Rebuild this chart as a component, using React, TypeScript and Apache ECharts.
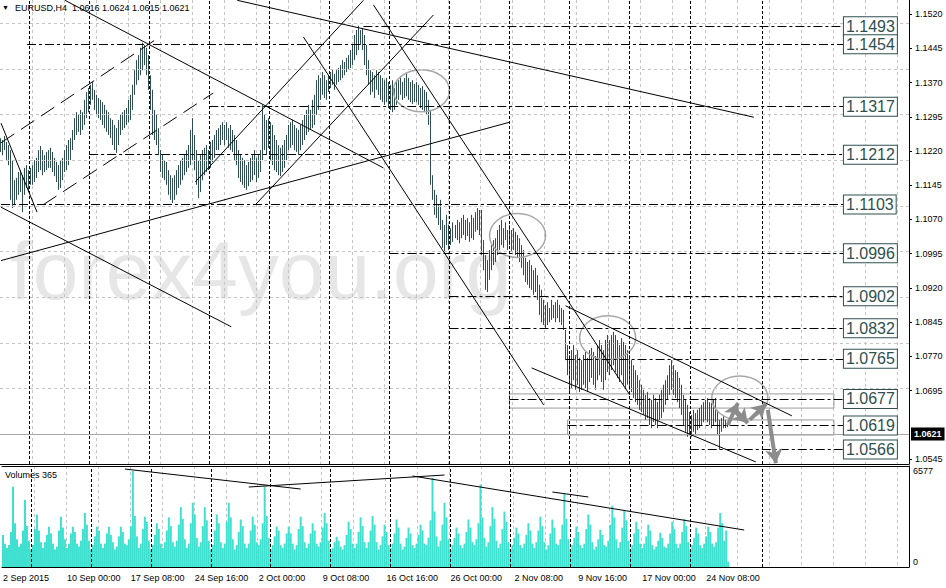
import { useEffect, useRef } from 'react';
import * as echarts from 'echarts';

// ---- bar data (EURUSD H4), one entry per bar ----
const highs = [
  1.1248,1.1244,1.1253,1.1240,1.1233,1.1222,1.1200,1.1156,1.1161,1.1174,1.1178,1.1167,1.1183,1.1189,1.1178,1.1183,
  1.1189,1.1200,1.1205,1.1222,1.1231,1.1222,1.1211,1.1218,1.1222,1.1227,1.1218,1.1205,1.1196,1.1189,1.1200,1.1205,
  1.1222,1.1233,1.1244,1.1248,1.1266,1.1292,1.1305,1.1299,1.1310,1.1305,1.1332,1.1349,1.1358,1.1365,1.1371,1.1354,
  1.1343,1.1336,1.1332,1.1327,1.1321,1.1310,1.1305,1.1292,1.1288,1.1277,1.1270,1.1288,1.1299,1.1305,1.1310,1.1314,
  1.1332,1.1343,1.1365,1.1397,1.1419,1.1430,1.1446,1.1457,1.1452,1.1446,1.1430,1.1386,1.1354,1.1310,1.1299,1.1270,
  1.1222,1.1211,1.1200,1.1196,1.1178,1.1167,1.1161,1.1167,1.1178,1.1189,1.1200,1.1205,1.1211,1.1222,1.1233,1.1266,
  1.1292,1.1255,1.1222,1.1200,1.1211,1.1222,1.1227,1.1233,1.1222,1.1240,1.1244,1.1255,1.1266,1.1270,1.1277,1.1283,
  1.1277,1.1283,1.1270,1.1277,1.1266,1.1255,1.1244,1.1222,1.1211,1.1205,1.1200,1.1189,1.1196,1.1205,1.1211,1.1222,
  1.1205,1.1211,1.1222,1.1321,1.1299,1.1288,1.1292,1.1283,1.1277,1.1255,1.1244,1.1233,1.1227,1.1233,1.1244,1.1255,
  1.1277,1.1283,1.1288,1.1277,1.1270,1.1266,1.1277,1.1288,1.1299,1.1310,1.1321,1.1310,1.1332,1.1343,1.1375,1.1386,
  1.1380,1.1393,1.1386,1.1375,1.1384,1.1393,1.1397,1.1389,1.1397,1.1402,1.1408,1.1419,1.1415,1.1424,1.1430,1.1441,
  1.1452,1.1474,1.1485,1.1494,1.1485,1.1489,1.1474,1.1452,1.1419,1.1397,1.1393,1.1386,1.1397,1.1393,1.1386,1.1380,
  1.1375,1.1380,1.1371,1.1365,1.1375,1.1358,1.1371,1.1375,1.1384,1.1371,1.1380,1.1389,1.1380,1.1371,1.1375,1.1367,
  1.1371,1.1365,1.1358,1.1362,1.1354,1.1349,1.1332,1.1310,1.1167,1.1135,1.1124,1.1102,1.1113,1.1069,1.1058,1.1080,
  1.1058,1.1051,1.1064,1.1058,1.1069,1.1064,1.1073,1.1080,1.1069,1.1073,1.1064,1.1080,1.1073,1.1086,1.1095,1.1091,
  1.1091,1.1025,1.0992,1.0981,1.1003,1.1014,1.1025,1.1029,1.1047,1.1058,1.1069,1.1051,1.1064,1.1047,1.1058,1.1047,
  1.1051,1.1043,1.1036,1.1029,1.1014,1.1003,1.0986,1.0977,1.0981,1.0970,1.0959,1.0964,1.0948,1.0927,1.0916,1.0894,
  1.0883,1.0889,1.0876,1.0894,1.0883,1.0889,1.0894,1.0883,1.0876,1.0872,1.0828,1.0795,1.0773,1.0784,1.0795,1.0773,
  1.0784,1.0767,1.0762,1.0773,1.0780,1.0767,1.0784,1.0789,1.0780,1.0771,1.0795,1.0806,1.0795,1.0784,1.0806,1.0817,
  1.0806,1.0817,1.0824,1.0817,1.0806,1.0795,1.0810,1.0802,1.0795,1.0784,1.0773,1.0762,1.0751,1.0740,1.0729,1.0718,
  1.0708,1.0697,1.0686,1.0692,1.0679,1.0675,1.0686,1.0679,1.0670,1.0686,1.0697,1.0708,1.0718,1.0729,1.0751,1.0762,
  1.0751,1.0740,1.0736,1.0723,1.0708,1.0686,1.0675,1.0664,1.0648,1.0642,1.0653,1.0646,1.0653,1.0657,1.0664,1.0670,
  1.0675,1.0679,1.0670,1.0668,1.0675,1.0679,1.0653,1.0631,1.0635,1.0642,1.0631,1.0624,
];
const lows = [
  1.1218,1.1211,1.1222,1.1200,1.1189,1.1113,1.1095,1.1102,1.1113,1.1124,1.1130,1.1086,1.1124,1.1139,1.1130,1.1146,
  1.1146,1.1152,1.1161,1.1174,1.1178,1.1167,1.1174,1.1178,1.1183,1.1183,1.1174,1.1165,1.1152,1.1135,1.1139,1.1156,
  1.1174,1.1178,1.1189,1.1200,1.1222,1.1244,1.1255,1.1262,1.1255,1.1266,1.1277,1.1292,1.1305,1.1321,1.1332,1.1310,
  1.1299,1.1292,1.1288,1.1277,1.1270,1.1262,1.1255,1.1248,1.1233,1.1222,1.1216,1.1233,1.1255,1.1266,1.1270,1.1277,
  1.1283,1.1288,1.1310,1.1343,1.1365,1.1375,1.1386,1.1397,1.1408,1.1386,1.1354,1.1310,1.1255,1.1244,1.1233,1.1211,
  1.1174,1.1161,1.1156,1.1146,1.1124,1.1113,1.1106,1.1113,1.1124,1.1139,1.1146,1.1156,1.1167,1.1174,1.1183,1.1189,
  1.1200,1.1178,1.1146,1.1117,1.1130,1.1156,1.1167,1.1174,1.1178,1.1183,1.1196,1.1205,1.1222,1.1222,1.1233,1.1244,
  1.1233,1.1244,1.1227,1.1222,1.1218,1.1200,1.1189,1.1161,1.1152,1.1146,1.1139,1.1135,1.1143,1.1152,1.1156,1.1167,
  1.1152,1.1161,1.1174,1.1200,1.1222,1.1211,1.1227,1.1200,1.1189,1.1178,1.1174,1.1167,1.1165,1.1174,1.1183,1.1200,
  1.1222,1.1227,1.1233,1.1222,1.1218,1.1211,1.1222,1.1233,1.1244,1.1255,1.1262,1.1266,1.1270,1.1277,1.1299,1.1310,
  1.1332,1.1343,1.1336,1.1332,1.1349,1.1358,1.1365,1.1354,1.1365,1.1371,1.1375,1.1380,1.1386,1.1393,1.1397,1.1402,
  1.1408,1.1419,1.1430,1.1441,1.1452,1.1441,1.1408,1.1386,1.1365,1.1343,1.1349,1.1336,1.1354,1.1343,1.1332,1.1327,
  1.1321,1.1327,1.1314,1.1310,1.1305,1.1310,1.1321,1.1332,1.1343,1.1332,1.1336,1.1340,1.1332,1.1327,1.1323,1.1327,
  1.1327,1.1321,1.1314,1.1310,1.1305,1.1299,1.1277,1.1146,1.1113,1.1080,1.1073,1.1058,1.1047,1.1008,1.0997,1.1014,
  1.1003,1.1014,1.1021,1.1029,1.1025,1.1018,1.1029,1.1036,1.1025,1.1034,1.1021,1.1029,1.1025,1.1043,1.1047,1.1036,
  1.0992,1.0959,1.0916,1.0911,1.0938,1.0959,1.0970,1.0977,1.0992,1.1003,1.1014,1.1008,1.1025,1.1003,1.1014,1.0999,
  1.1003,1.0992,1.0986,1.0977,1.0964,1.0948,1.0933,1.0927,1.0920,1.0916,1.0905,1.0911,1.0894,1.0861,1.0845,1.0839,
  1.0832,1.0839,1.0845,1.0850,1.0854,1.0845,1.0854,1.0845,1.0839,1.0828,1.0762,1.0729,1.0692,1.0701,1.0718,1.0697,
  1.0708,1.0692,1.0697,1.0708,1.0701,1.0692,1.0714,1.0723,1.0708,1.0697,1.0718,1.0729,1.0714,1.0697,1.0718,1.0736,
  1.0729,1.0740,1.0751,1.0736,1.0723,1.0714,1.0729,1.0708,1.0701,1.0708,1.0697,1.0692,1.0679,1.0670,1.0664,1.0653,
  1.0648,1.0642,1.0631,1.0635,1.0620,1.0613,1.0626,1.0620,1.0613,1.0631,1.0635,1.0648,1.0664,1.0675,1.0686,1.0697,
  1.0686,1.0679,1.0670,1.0657,1.0642,1.0620,1.0605,1.0594,1.0598,1.0594,1.0605,1.0598,1.0609,1.0613,1.0620,1.0626,
  1.0631,1.0626,1.0620,1.0613,1.0620,1.0626,1.0598,1.0566,1.0605,1.0613,1.0613,1.0615,
];
const volumes = [
  2200,1600,
  1300,1500,2400,5500,3000,1900,
  1400,1600,2500,4600,2800,1800,
  1200,1500,2600,3600,2500,1700,
  1300,1700,2200,2760,2300,1600,
  1200,1400,2500,3450,2700,1900,
  1300,1600,2300,2760,2400,1600,
  1400,1800,2600,3700,2900,1800,
  1200,1500,2100,2760,2500,1600,
  1300,1600,2300,2760,2200,1700,
  1200,1400,2100,2760,2400,1600,
  1500,1900,2800,6577,3500,2100,
  1300,1600,2600,3450,3100,1800,
  1200,1500,2200,3000,2600,1600,
  1300,1700,2500,3400,2800,1700,
  1400,1800,2900,4100,3300,1900,
  1300,1600,3000,4400,3600,2000,
  1400,1700,2800,4100,3200,1800,
  1200,1500,2500,3600,3000,1700,
  1300,1600,3100,4400,3400,1900,
  1200,1500,2400,3250,2800,1600,
  1300,1600,2500,3450,2900,1700,
  1500,1900,3000,5500,3500,2000,
  1200,1500,2100,2760,2500,1500,
  1300,1600,2300,2760,2300,1600,
  1200,1500,2600,3450,2800,1700,
  1300,1600,2300,3000,2500,1600,
  1400,1700,2700,3700,3000,1800,
  1100,1300,1700,2070,1800,1400,
  1200,1500,2200,3100,2600,1600,
  1300,1600,2400,3400,2800,1700,
  1300,1700,2500,3500,2900,1700,
  1200,1500,2100,2900,2400,1500,
  1300,1600,2300,3250,2700,1600,
  1200,1400,2000,2700,2300,1500,
  1300,1600,2200,2900,2500,1600,
  1500,2000,3200,6100,3800,2100,
  1400,1800,2900,4400,3400,1900,
  1200,1500,2000,2700,2300,1500,
  1300,1600,2400,3250,2700,1700,
  1500,1900,3000,5650,3400,2000,
  1400,1700,2800,4100,3300,1800,
  1300,1600,2600,3800,3100,1700,
  1200,1500,2000,2700,2300,1500,
  1300,1600,2200,3000,2500,1600,
  1300,1700,2500,3450,2800,1700,
  1200,1500,2300,3250,2700,1600,
  1500,1900,2900,5000,3300,1900,
  1200,1500,2000,2760,2400,1500,
  1300,1600,2600,3600,2900,1700,
  1200,1400,1900,2550,2200,1500,
  1400,1800,2900,4200,3400,1900,
  1300,1700,2700,3900,3200,1800,
  1200,1500,2300,3100,2600,1600,
  1300,1600,2100,2900,2500,1500,
  1200,1400,1800,2350,2000,1400,
  1300,1600,2300,3100,2600,1600,
  1300,1600,2400,3300,2800,1700,
  1200,1500,2000,2700,2300,1500,
  1300,1600,2100,2760,2400,1600,
  1400,1700,2700,3700,3000,1800,
  2500,365,
];

const symbolName = 'EURUSD,H4';
const lastQuote = [1.0616, 1.0624, 1.0615, 1.0621]; // O H L C
const bidPrice = 1.0621;
const volumeTopLabel = 6577;

const timeLabels = [
  '2 Sep 2015', '10 Sep 00:00', '17 Sep 08:00', '24 Sep 16:00', '2 Oct 00:00', '9 Oct 08:00',
  '16 Oct 16:00', '26 Oct 00:00', '2 Nov 08:00', '9 Nov 16:00', '17 Nov 00:00', '24 Nov 08:00',
];
const priceTicks = [1.0545, 1.0620, 1.0695, 1.0770, 1.0845, 1.0920, 1.0995, 1.1070, 1.1145, 1.1220, 1.1295, 1.1370, 1.1445, 1.1520];
const hiddenPriceTick = 1.0620;

// horizontal support / resistance levels and the bar where each starts
const levels = [1.1493, 1.1454, 1.1317, 1.1212, 1.1103, 1.0996, 1.0902, 1.0832, 1.0765, 1.0677, 1.0619, 1.0566];
const levelStarts = [181, 13, 104, 44, 0, 194, 224, 224, 282, 254, 283, 344];
const levelEnd = 421;

// weekly separators (bar index)
const separators = [14, 44, 74, 104, 134, 164, 194, 224, 254, 284, 314, 344, 380];

// trend lines: [bar1, price1, bar2, price2]
const trendLines = [
  [118, 1.1550, 376, 1.1294],
  [32, 1.1550, 191, 1.1183],
  [0, 1.1281, 18, 1.1086],
  [0, 1.1097, 115, 1.0835],
  [0, 1.0980, 254, 1.1283],
  [97, 1.1152, 181, 1.1550],
  [127, 1.1102, 216, 1.1518],
  [151, 1.1470, 271, 1.0664],
  [186, 1.1540, 314, 1.0686],
  [282, 1.0881, 395, 1.0640],
  [265, 1.0745, 377, 1.0539],
];
const channelLines = [
  [0, 1.1238, 80, 1.1472],
  [21, 1.1102, 106, 1.1347],
];
const volumeLines = [
  [61, 6713, 149, 5343],
  [123, 5480, 221, 6302],
  [205, 6234, 371, 2535],
  [275, 5138, 293, 4795],
];
const arrows = [
  [363, 1.0620, 368, 1.0668],
  [366, 1.0657, 373, 1.0624],
  [374, 1.0631, 382, 1.0666],
  [383, 1.0653, 387, 1.0536],
];
// ellipses: [centre bar, centre price, half-width in bars, half-height in price]
const ellipses = [
  [210, 1.1352, 14, 0.0046],
  [258, 1.1035, 14, 0.0048],
  [303, 1.0811, 14, 0.0048],
  [369, 1.0679, 14, 0.0048],
];
// rectangles: [bar1, price1, bar2, price2]
const zones = [
  [254, 1.0688, 416, 1.0657],
  [283, 1.0631, 416, 1.0598],
];

const CATEGORY_COUNT = 454;
const PRICE_MIN = 1.05345;
const PRICE_MAX = 1.15507;
const VOLUME_MAX = 6920;

const FONT = '"Liberation Sans", Arial, sans-serif';
const BAR_COLOR = '#2F4F4F';
const GRID_COLOR = '#C4C4C4';

function buildOption() {
  const cats = Array.from({ length: CATEGORY_COUNT }, (_, i) => String(i));
  const ohlc = highs.map((h, i) => [i, lows[i], h]);
  const seg = (a: number[]) => [{ coord: [a[0], a[1]] }, { coord: [a[2], a[3]] }];

  const xBase = {
    type: 'category',
    data: cats,
    boundaryGap: true,
    axisTick: { show: false },
    axisLine: { show: true, lineStyle: { color: '#000', width: 1 } },
    splitLine: {
      show: true,
      interval: (index: number) => index > 0 && index % 16 === 0,
      lineStyle: { color: GRID_COLOR, type: [3, 3], width: 1 },
    },
  };

  const noLabelLine = { show: false };

  return {
    animation: false,
    textStyle: { fontFamily: FONT },
    grid: [
      { left: 0, top: 0, width: 909, height: 464 },
      { left: 0, top: 466, width: 909, height: 101 },
    ],
    xAxis: [
      { ...xBase, gridIndex: 0, axisLabel: { show: false } },
      {
        ...xBase,
        gridIndex: 1,
        position: 'bottom',
        axisLabel: {
          show: true,
          interval: (index: number) => index % 32 === 0 && index / 32 < timeLabels.length,
          formatter: (_v: string, index: number) => timeLabels[index / 32] || '',
          align: 'left',
          margin: 6,
          fontSize: 9,
          color: '#000',
          fontFamily: FONT,
        },
      },
      {
        type: 'category',
        data: cats,
        gridIndex: 1,
        position: 'top',
        axisLine: { show: true, lineStyle: { color: '#000', width: 1 } },
        axisTick: { show: false },
        axisLabel: { show: false },
        splitLine: { show: false },
      },
    ],
    yAxis: [
      {
        type: 'value',
        gridIndex: 0,
        position: 'right',
        min: PRICE_MIN,
        max: PRICE_MAX,
        splitLine: { show: false },
        axisLine: { show: true, lineStyle: { color: '#000', width: 1 } },
        axisTick: { show: true, length: 3, lineStyle: { color: '#000' }, customValues: priceTicks.filter((v) => v !== hiddenPriceTick) },
        axisLabel: {
          show: true,
          customValues: priceTicks.filter((v) => v !== hiddenPriceTick),
          formatter: (v: number) => v.toFixed(4),
          margin: 6,
          fontSize: 9,
          color: '#000',
          fontFamily: FONT,
        },
      },
      {
        type: 'value',
        gridIndex: 1,
        position: 'right',
        min: 0,
        max: VOLUME_MAX,
        splitLine: { show: false },
        axisLine: { show: true, lineStyle: { color: '#000', width: 1 } },
        axisTick: { show: false },
        axisLabel: {
          show: true,
          customValues: [0, volumeTopLabel],
          formatter: (v: number) => (v === 0 ? '{z|0}' : String(v)),
          rich: { z: { fontSize: 9, padding: [0, 0, 10, 0], color: '#000' } },
          margin: 4,
          fontSize: 9,
          color: '#000',
          fontFamily: FONT,
        },
      },
    ],
    graphic: [
      {
        type: 'text', left: 10, top: 229, z: -10, silent: true,
        style: { text: 'forex4you.org', font: `82px ${FONT}`, fill: '#E6E6E6' },
      },
      {
        type: 'text', left: 2, top: 4, z: 100, silent: true,
        style: { text: '▼', font: `7px ${FONT}`, fill: '#000' },
      },
      {
        type: 'text', left: 15, top: 3, z: 100, silent: true,
        style: { text: `${symbolName}  ${lastQuote.map((v) => v.toFixed(4)).join(' ')}`, font: `9px ${FONT}`, fill: '#000' },
      },
      {
        type: 'text', left: 5, top: 470, z: 100, silent: true,
        style: { text: `Volumes ${volumes[volumes.length - 1]}`, font: `9px ${FONT}`, fill: '#000' },
      },
    ],
    series: [
      // price grid lines
      {
        type: 'line', xAxisIndex: 0, yAxisIndex: 0, data: [], z: 1, silent: true,
        markLine: {
          silent: true, symbol: ['none', 'none'], label: noLabelLine, animation: false,
          lineStyle: { color: GRID_COLOR, type: [3, 3], width: 1 },
          data: priceTicks.map((v) => ({ yAxis: v })),
        },
      },
      // weekly separators (price)
      {
        type: 'line', xAxisIndex: 0, yAxisIndex: 0, data: [], z: 2, silent: true,
        markLine: {
          silent: true, symbol: ['none', 'none'], label: noLabelLine, animation: false,
          lineStyle: { color: '#000', type: [3, 2], width: 1 },
          data: separators.map((v) => ({ xAxis: v })),
        },
      },
      // weekly separators (volume)
      {
        type: 'line', xAxisIndex: 1, yAxisIndex: 1, data: [], z: 3, silent: true,
        markLine: {
          silent: true, symbol: ['none', 'none'], label: noLabelLine, animation: false,
          lineStyle: { color: '#000', type: [3, 2], width: 1 },
          data: separators.map((v) => ({ xAxis: v })),
        },
      },
      // volume histogram
      {
        type: 'bar', xAxisIndex: 1, yAxisIndex: 1, data: volumes, barWidth: 2, z: 2, silent: true,
        itemStyle: { color: '#40E0D0' },
      },
      // volume trend lines
      {
        type: 'line', xAxisIndex: 1, yAxisIndex: 1, data: [], z: 4, silent: true,
        markLine: {
          silent: true, symbol: ['none', 'none'], label: noLabelLine, animation: false,
          lineStyle: { color: '#000', type: 'solid', width: 1 },
          data: volumeLines.map(seg),
        },
      },
      // rectangles
      {
        type: 'line', xAxisIndex: 0, yAxisIndex: 0, data: [], z: 2, silent: true,
        markArea: {
          silent: true, animation: false,
          itemStyle: { color: 'rgba(0,0,0,0)', borderColor: '#9A9A9A', borderWidth: 1 },
          label: { show: false },
          data: zones.map((a) => [{ coord: [a[0], a[1]] }, { coord: [a[2], a[3]] }]),
        },
      },
      // bid line
      {
        type: 'line', xAxisIndex: 0, yAxisIndex: 0, data: [], z: 2, silent: true,
        markLine: {
          silent: true, symbol: ['none', 'none'], animation: false,
          lineStyle: { color: '#A8A8A8', type: 'solid', width: 1 },
          label: {
            show: true, position: 'end', distance: 2, formatter: bidPrice.toFixed(4),
            backgroundColor: '#000', color: '#fff', fontSize: 9, fontWeight: 'bold', padding: [2, 3, 2, 3], fontFamily: FONT,
          },
          data: [{ yAxis: bidPrice }],
        },
      },
      // price bars
      {
        type: 'custom', xAxisIndex: 0, yAxisIndex: 0, z: 3, silent: true,
        encode: { x: 0, y: [1, 2] },
        data: ohlc,
        renderItem: (_params: any, api: any) => {
          const i = api.value(0);
          const lo = api.coord([i, api.value(1)]);
          const hi = api.coord([i, api.value(2)]);
          const x = Math.round(lo[0]) - 0.5;
          const y2 = Math.max(lo[1], hi[1] + 1);
          return {
            type: 'line',
            shape: { x1: x, y1: hi[1], x2: x, y2 },
            style: { stroke: BAR_COLOR, lineWidth: 1 },
          };
        },
      },
      // horizontal levels with boxed labels
      {
        type: 'line', xAxisIndex: 0, yAxisIndex: 0, data: [], z: 5, silent: true,
        markLine: {
          silent: true, symbol: ['none', 'none'], animation: false,
          lineStyle: { color: '#000', type: [9, 3, 3, 3], width: 1 },
          label: {
            show: true, position: 'end', distance: 0,
            color: '#2F4F4F', fontSize: 16, lineHeight: 17, fontFamily: FONT,
            backgroundColor: '#fff', borderColor: '#2F4F4F', borderWidth: 1, padding: [1, 2, 0, 2],
          },
          data: levels.map((v, i) => [
            { coord: [levelStarts[i], v], label: { formatter: v.toFixed(4) } },
            { coord: [levelEnd, v] },
          ]),
        },
      },
      // trend lines
      {
        type: 'line', xAxisIndex: 0, yAxisIndex: 0, data: [], z: 4, silent: true,
        markLine: {
          silent: true, symbol: ['none', 'none'], label: noLabelLine, animation: false,
          lineStyle: { color: '#000', type: 'solid', width: 1 },
          data: trendLines.map(seg),
        },
      },
      // channel (dashed)
      {
        type: 'line', xAxisIndex: 0, yAxisIndex: 0, data: [], z: 4, silent: true,
        markLine: {
          silent: true, symbol: ['none', 'none'], label: noLabelLine, animation: false,
          lineStyle: { color: '#000', type: [16, 8], width: 1 },
          data: channelLines.map(seg),
        },
      },
      // ellipses
      {
        type: 'custom', xAxisIndex: 0, yAxisIndex: 0, z: 4, silent: true,
        encode: { x: 0, y: 1 },
        data: ellipses,
        renderItem: (_params: any, api: any) => {
          const c = api.coord([api.value(0), api.value(1)]);
          const e = api.coord([api.value(0) + api.value(2), api.value(1) + api.value(3)]);
          return {
            type: 'ellipse',
            shape: { cx: c[0], cy: c[1], rx: Math.abs(e[0] - c[0]), ry: Math.abs(c[1] - e[1]) },
            style: { fill: 'none', stroke: '#A6A6A6', lineWidth: 1.5 },
          };
        },
      },
      // gray arrows
      {
        type: 'line', xAxisIndex: 0, yAxisIndex: 0, data: [], z: 6, silent: true,
        markLine: {
          silent: true, symbol: ['none', 'arrow'], symbolSize: [13, 14], label: noLabelLine, animation: false,
          lineStyle: { color: '#8C8C8C', type: 'solid', width: 4, opacity: 1 },
          itemStyle: { color: '#8C8C8C' },
          data: arrows.map(seg),
        },
      },
    ],
  };
}

export default function App() {
  const ref = useRef<HTMLDivElement>(null);
  useEffect(() => {
    if (!ref.current) return;
    const chart = echarts.init(ref.current, null, { renderer: 'svg' });
    chart.setOption(buildOption() as any);
    return () => chart.dispose();
  }, []);
  return (
    <div
      ref={ref}
      style={{ position: 'fixed', left: 0, top: 0, width: 946, height: 588, background: '#fff' }}
    />
  );
}
